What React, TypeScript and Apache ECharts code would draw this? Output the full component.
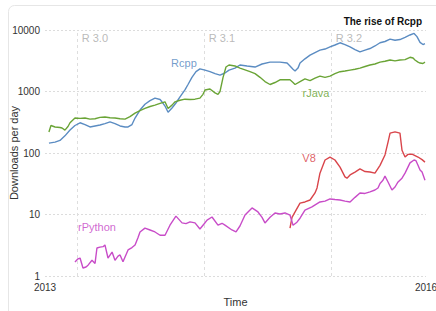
import React, { useEffect, useRef } from "react";
import * as echarts from "echarts";

// decimal years and downloads per day
const rcppYears = [2013.031,2013.079,2013.118,2013.157,2013.197,2013.236,2013.276,2013.315,2013.354,2013.394,2013.433,2013.472,2013.512,2013.551,2013.591,2013.630,2013.654,2013.685,2013.709,2013.748,2013.787,2013.827,2013.866,2013.906,2013.921,2013.945,2013.969,2014.000,2014.031,2014.063,2014.102,2014.126,2014.157,2014.189,2014.220,2014.260,2014.299,2014.339,2014.378,2014.417,2014.449,2014.496,2014.535,2014.591,2014.654,2014.709,2014.772,2014.850,2014.906,2014.929,2014.953,2014.969,2014.992,2015.008,2015.047,2015.087,2015.126,2015.165,2015.205,2015.244,2015.283,2015.323,2015.362,2015.402,2015.441,2015.480,2015.520,2015.559,2015.598,2015.638,2015.677,2015.717,2015.756,2015.795,2015.835,2015.874,2015.906,2015.929,2015.953,2015.976,2015.992];
const rcppValues = [145,150,160,190,236,280,310,290,265,275,285,300,320,300,275,265,265,290,370,500,620,710,780,740,680,580,460,540,650,820,1060,1300,1700,2100,2330,2230,2100,1950,1850,2000,2230,2400,2700,2600,2500,2800,3000,3000,2900,2600,2300,2150,2400,2900,3400,3900,4300,4700,4900,5300,5700,6200,5800,5300,4800,4400,4700,5000,5500,6200,6500,7100,6800,7000,7600,8300,8800,7800,6300,5800,6000];

const rjavaYears = [2013.031,2013.047,2013.079,2013.118,2013.134,2013.157,2013.181,2013.197,2013.236,2013.276,2013.315,2013.354,2013.394,2013.433,2013.472,2013.512,2013.551,2013.591,2013.630,2013.669,2013.709,2013.748,2013.787,2013.827,2013.866,2013.906,2013.945,2013.969,2014.000,2014.024,2014.063,2014.102,2014.142,2014.181,2014.220,2014.244,2014.260,2014.299,2014.339,2014.362,2014.378,2014.402,2014.425,2014.449,2014.496,2014.535,2014.575,2014.614,2014.654,2014.693,2014.732,2014.772,2014.811,2014.850,2014.890,2014.929,2014.953,2014.969,2015.008,2015.047,2015.087,2015.126,2015.165,2015.205,2015.244,2015.283,2015.323,2015.362,2015.402,2015.441,2015.480,2015.520,2015.559,2015.598,2015.638,2015.677,2015.717,2015.756,2015.795,2015.835,2015.874,2015.898,2015.913,2015.937,2015.953,2015.976,2015.992];
const rjavaValues = [220,280,265,260,255,235,270,310,370,365,370,355,360,380,385,375,370,360,355,390,445,490,530,570,600,640,680,530,600,680,720,750,740,750,780,900,1060,1100,950,900,1000,1700,2500,2700,2600,2400,2250,2100,1950,1700,1450,1300,1400,1550,1550,1550,1400,1300,1450,1600,1500,1650,1780,1700,1780,1950,2100,2150,2230,2300,2400,2550,2700,2800,3000,3100,3250,3150,3250,3300,3600,3500,3250,3000,2900,2850,3000];

const rpythonYears = [2013.236,2013.260,2013.276,2013.299,2013.323,2013.339,2013.370,2013.394,2013.409,2013.433,2013.457,2013.472,2013.496,2013.528,2013.551,2013.575,2013.591,2013.614,2013.654,2013.685,2013.709,2013.732,2013.748,2013.787,2013.827,2013.866,2013.906,2013.945,2013.984,2014.031,2014.079,2014.110,2014.142,2014.181,2014.220,2014.252,2014.276,2014.315,2014.362,2014.394,2014.417,2014.472,2014.504,2014.535,2014.575,2014.630,2014.677,2014.709,2014.732,2014.772,2014.811,2014.850,2014.890,2014.929,2014.953,2014.984,2015.008,2015.047,2015.102,2015.165,2015.205,2015.244,2015.283,2015.323,2015.362,2015.402,2015.441,2015.480,2015.520,2015.559,2015.598,2015.622,2015.638,2015.661,2015.677,2015.701,2015.732,2015.756,2015.780,2015.811,2015.835,2015.874,2015.906,2015.921,2015.937,2015.953,2015.969,2015.992];
const rpythonValues = [1.69,1.9,1.96,1.35,1.4,1.5,1.8,1.6,2.85,2.95,3.0,3.2,1.96,2.45,1.8,2.1,2.2,1.7,2.65,2.9,3.2,4.2,5.2,6.0,5.6,5.2,4.6,4.6,6.7,9.4,7.3,7.1,7.6,7.3,5.8,7.0,8.1,9.1,6.7,7.2,6.7,5.6,5.2,6.5,9.8,12.8,11,9,7.3,9,10.6,10.2,10.6,9.8,6.7,7.5,8.7,11.8,13.3,16,16.5,17.9,17.5,17.2,16.5,16,19,22.4,22,23.3,25,27,32,36,42,33.8,25,28,33.8,39,47,69,77,75,63,53,49,36];

const v8Years = [2014.929,2014.945,2014.969,2015.008,2015.047,2015.087,2015.126,2015.142,2015.165,2015.205,2015.244,2015.283,2015.323,2015.362,2015.378,2015.402,2015.441,2015.480,2015.520,2015.559,2015.598,2015.638,2015.677,2015.701,2015.717,2015.756,2015.795,2015.811,2015.835,2015.858,2015.890,2015.937,2015.969,2015.992];
const v8Values = [6.0,9,11,15.3,16,17.2,22.4,27,47,77,86,77,59,41,39,44,49,55,50,49,47,63,93,150,210,220,210,111,86,95,96,86,78,71];

const releaseYears = [2013.25, 2014.25, 2015.25];
const releaseNames = ["R 3.0", "R 3.1", "R 3.2"];
const yTicks = [1, 10, 100, 1000, 10000];

const seriesNames = ["Rcpp", "rJava", "V8", "rPython"];
const seriesColors = ["#5b8cc2", "#6aa436", "#d9454b", "#c84cc8"];
const labelYears = [2014.094, 2015.134, 2015.079, 2013.409];
const labelValues = [2905, 945, 83, 6.3];

const zip = (a: number[], b: number[]) => a.map((x, i) => [x, b[i]]);
const FONT = "Liberation Sans, Arial, sans-serif";

export default function App() {
  const ref = useRef<HTMLDivElement>(null);
  useEffect(() => {
    if (!ref.current) return;
    const chart = echarts.init(ref.current, null, { renderer: "svg" });
    const lineBase = (name: string, color: string, data: number[][]) => ({
      name,
      type: "line",
      data,
      showSymbol: false,
      symbol: "none",
      lineStyle: { color, width: 1.4 },
      itemStyle: { color },
      z: 3,
    });
    chart.setOption({
      animation: false,
      backgroundColor: "#ffffff",
      title: {
        text: "The rise of Rcpp",
        right: 9,
        top: 11,
        textStyle: { fontSize: 10, fontWeight: "bold", color: "#111", fontFamily: FONT },
      },
      graphic: [
        {
          type: "rect",
          shape: { x: 8.5, y: 5.5, width: 440, height: 320, r: 6 },
          style: { fill: "none", stroke: "#e6e6e6", lineWidth: 1 },
          silent: true,
          z: -1,
        },
      ],
      grid: { left: 45, right: 10, top: 30, bottom: 35, containLabel: false, outerBoundsMode: "none" },
      xAxis: {
        type: "value",
        min: 2013,
        max: 2016,
        interval: 3,
        name: "Time",
        nameLocation: "middle",
        nameGap: 20,
        nameMoveOverlap: false,
        nameTextStyle: { fontSize: 11, color: "#333", fontFamily: FONT },
        axisLine: { show: false },
        axisTick: { show: false },
        splitLine: { show: false },
        axisLabel: {
          margin: 6,
          fontSize: 10,
          color: "#333",
          fontFamily: FONT,
          formatter: (v: number) => String(Math.round(v)),
        },
      },
      yAxis: {
        type: "log",
        logBase: 10,
        min: yTicks[0],
        max: yTicks[yTicks.length - 1],
        name: "Downloads per day",
        nameLocation: "middle",
        nameGap: 26,
        nameMoveOverlap: false,
        nameTextStyle: { fontSize: 11, color: "#333", fontFamily: FONT },
        axisLine: { show: false },
        axisTick: { show: false },
        splitLine: { show: true, lineStyle: { color: "#dcdcdc", type: [2, 2], width: 1 } },
        axisLabel: {
          margin: 5,
          fontSize: 10,
          color: "#333",
          fontFamily: FONT,
          formatter: (v: number) => String(Math.round(v)),
        },
      },
      series: [
        {
          ...lineBase(seriesNames[0], seriesColors[0], zip(rcppYears, rcppValues)),
          markLine: {
            silent: true,
            symbol: "none",
            label: { show: false },
            lineStyle: { color: "#dedede", type: [3, 3], width: 1 },
            data: releaseYears.map((x) => ({ xAxis: x })),
            z: 1,
          },
        },
        lineBase(seriesNames[1], seriesColors[1], zip(rjavaYears, rjavaValues)),
        lineBase(seriesNames[2], seriesColors[2], zip(v8Years, v8Values)),
        lineBase(seriesNames[3], seriesColors[3], zip(rpythonYears, rpythonValues)),
        {
          type: "scatter",
          symbolSize: 0,
          silent: true,
          data: releaseYears.map((x, i) => ({ value: [x, 7400], name: releaseNames[i] })),
          label: {
            show: true,
            position: "right",
            distance: 5,
            formatter: "{b}",
            fontSize: 11,
            color: "#a8a8a8",
            fontFamily: FONT,
          },
        },
        {
          type: "scatter",
          symbolSize: 0,
          silent: true,
          data: seriesNames.map((n, i) => ({
            value: [labelYears[i], labelValues[i]],
            name: n,
            label: { color: seriesColors[i] },
          })),
          label: {
            show: true,
            position: "inside",
            formatter: "{b}",
            fontSize: 11,
            fontFamily: FONT,
            opacity: 0.85,
          },
        },
      ],
    });
    return () => chart.dispose();
  }, []);
  return <div ref={ref} style={{ position: "fixed", left: 0, top: 0, width: 436, height: 311 }} />;
}
